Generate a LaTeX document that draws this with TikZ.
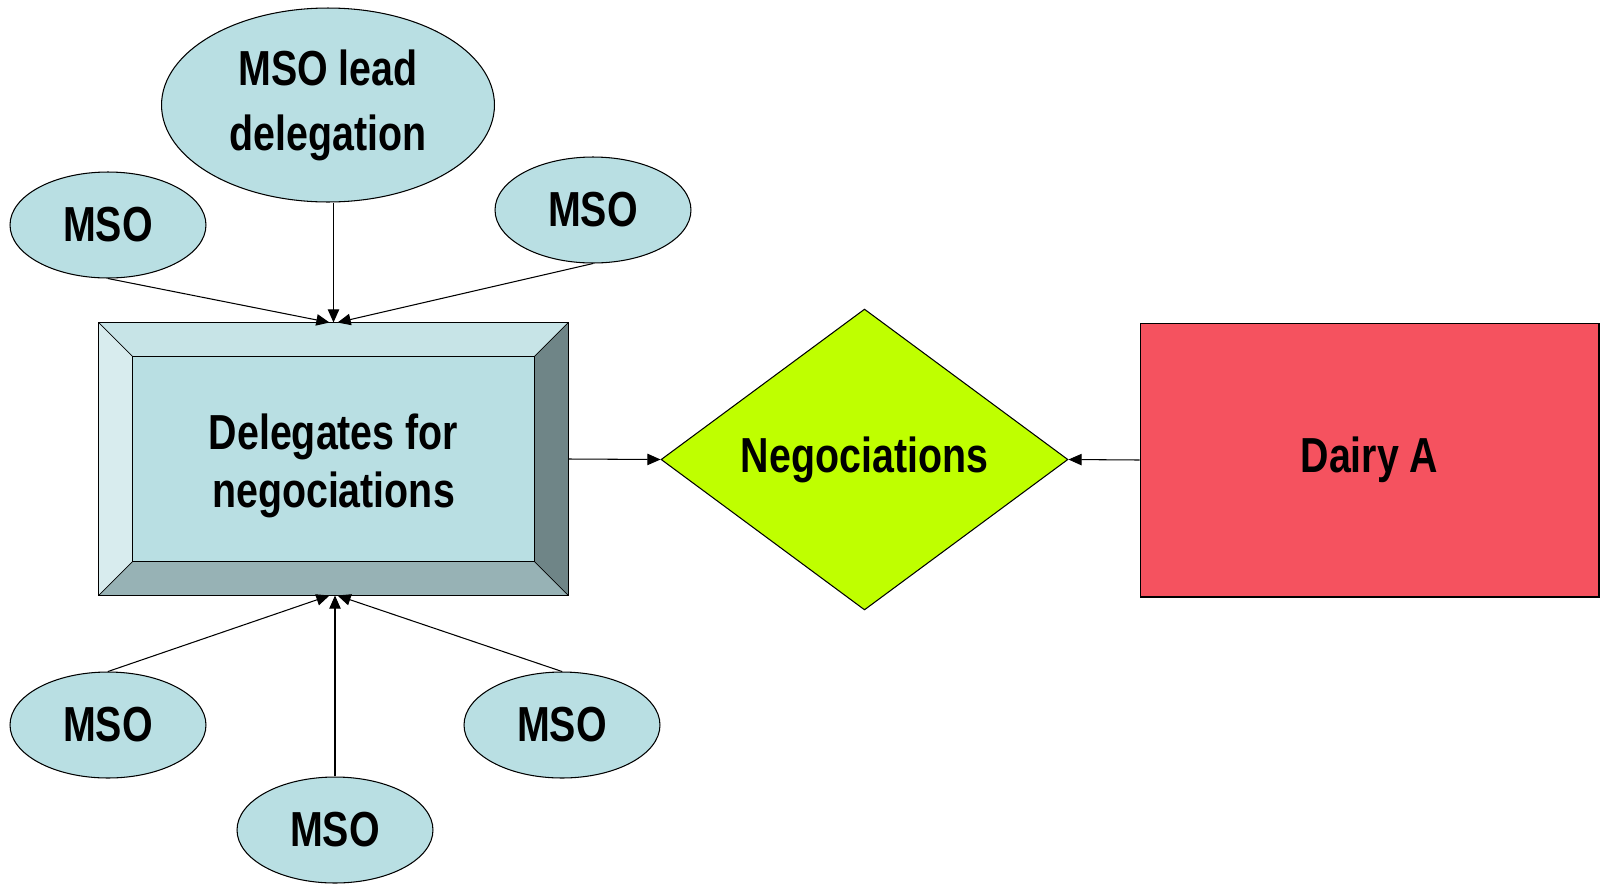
\documentclass[tikz,border=0pt]{standalone}
\usepackage{fontspec}
\setmainfont{Liberation Sans}[FakeStretch=0.8]
\usepackage{xcolor}
\usetikzlibrary{shapes,arrows.meta,calc}

\definecolor{msoblue}{HTML}{B9DFE3}
\definecolor{bevtop}{HTML}{C7E4E7}
\definecolor{bevleft}{HTML}{D8ECEE}
\definecolor{bevright}{HTML}{6F8587}
\definecolor{bevbottom}{HTML}{97B2B5}
\definecolor{negolime}{HTML}{BFFF00}
\definecolor{dairyred}{HTML}{F5525F}

\tikzset{
	bigtext/.style={font=\bfseries\fontsize{28}{33}\selectfont, align=center},
	mso/.style={ellipse, draw, fill=msoblue, line width=0.6pt, bigtext, minimum width=3.92cm, minimum height=2.12cm},
	link/.style={line width=0.6pt, -{Triangle[length=7.5pt,width=6.5pt]}}
}

\begin{document}
\begin{tikzpicture}[x=0.02cm, y=-0.02cm]
	\useasboundingbox (0,0) rectangle (1602,883);

	% delegates box with bevel
	\node[rectangle, draw, fill=msoblue, line width=0.6pt, minimum width=9.38cm, minimum height=5.44cm] (deleg) at (333.5,459) {};
	\fill[bevtop] (deleg.north west) -- (deleg.north east) -- ($(deleg.north east)+(-34,34)$) -- ($(deleg.north west)+(34,34)$) -- cycle;
	\fill[bevleft] (deleg.north west) -- ($(deleg.north west)+(34,34)$) -- ($(deleg.south west)+(34,-34)$) -- (deleg.south west) -- cycle;
	\fill[bevright] (deleg.north east) -- ($(deleg.north east)+(-34,34)$) -- ($(deleg.south east)+(-34,-34)$) -- (deleg.south east) -- cycle;
	\fill[bevbottom] (deleg.south west) -- ($(deleg.south west)+(34,-34)$) -- ($(deleg.south east)+(-34,-34)$) -- (deleg.south east) -- cycle;
	\draw[line width=0.6pt] (deleg.north west) rectangle (deleg.south east);
	\draw[line width=0.6pt] ($(deleg.north west)+(34,34)$) rectangle ($(deleg.south east)+(-34,-34)$);
	\draw[line width=0.4pt] (deleg.north west) -- ++(34,34) (deleg.north east) -- ++(-34,34)
		(deleg.south west) -- ++(34,-34) (deleg.south east) -- ++(-34,-34);
	\node[bigtext] at ($(deleg.center)+(0,7)$) {Delegates for\\negociations};

	\node[mso, minimum width=6.66cm, minimum height=3.88cm, font=\bfseries\fontsize{28}{37}\selectfont] (lead) at (328,105) {MSO lead\\delegation};
	\node[mso] (tl) at (108,225) {MSO};
	\node[mso] (tr) at (593,210) {MSO};
	\node[mso] (bl) at (108,725) {MSO};
	\node[mso] (bm) at (335,830) {MSO};
	\node[mso] (br) at (562,725) {MSO};

	\node[diamond, draw, fill=negolime, line width=0.6pt, inner sep=0pt, minimum width=8.14cm, minimum height=6.02cm, bigtext] (nego) at (864.5,459.5) {Negociations};
	\node[rectangle, draw, fill=dairyred, line width=0.6pt, minimum width=9.18cm, minimum height=5.48cm, bigtext] (dairy) at (1369.5,460) {Dairy A};

	\draw[link] (tl.south) -- ($(deleg.north)+(-4,0)$);
	\draw[link] (lead.south -| deleg.north) -- (deleg.north);
	\draw[link] (tr.south) -- ($(deleg.north)+(4,0)$);
	\draw[link] (bl.north) -- ($(deleg.south)+(-4,0)$);
	\draw[link] (bm.north) -- (bm.north |- deleg.south);
	\draw[link] (br.north) -- ($(deleg.south)+(4,0)$);
	\draw[link] (deleg.east) -- (nego.west);
	\draw[link] (dairy.west) -- (nego.east);
\end{tikzpicture}
\end{document}
